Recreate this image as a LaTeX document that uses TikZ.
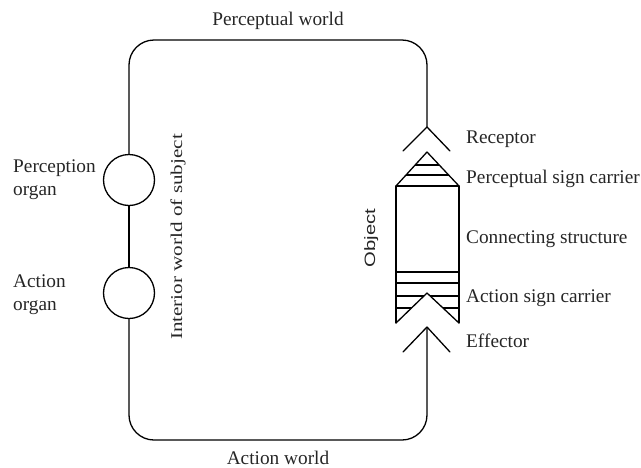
\documentclass[tikz,border=0pt]{standalone}
\usepackage{fontspec}
\setmainfont{Liberation Serif}
\setsansfont{Liberation Sans}
\usetikzlibrary{calc}
\usepackage{tkz-euclide}

\begin{document}
\begin{tikzpicture}[x=1pt,y=-1pt,
  lbl/.style={anchor=base west,inner sep=0pt,text=black!85,
    font=\fontsize{19.3}{23}\selectfont,align=left},
  ttl/.style={lbl,anchor=base},
  loop/.style={line width=1.3pt,rounded corners=25pt}]
\useasboundingbox (0,0) rectangle (641,467);
\tkzSetUpLine[line width=1.3pt,color=black]

% frame of the circle
\tkzDefPoints{129/40/tl,427/40/tr,427/440/br,129/440/bl}

% organs of the subject
\tkzDefPoints{129/180/P,129/154.5/p,129/205.5/q}
\tkzDefPoints{129/293/A,129/267.5/a,129/318.5/b}

% receptor, object, effector
\tkzDefPoints{427/127/R,403/151/R1,450/151/R2}
\tkzDefPoints{427/152/T,396/186/U,459/186/V,396/323/W,459/323/Z,427/293/N}
\tkzDefPoints{427/327/E,403/352/E1,450/352/E2}

\draw[loop] (p) -- (tl) -- (tr) -- (R);
\draw[loop] (E) -- (br) -- (bl) -- (b);
\tkzDrawSegments(q,a)

\tkzDrawCircle[color=black,line width=1.3pt](P,p)
\tkzDrawCircle[color=black,line width=1.3pt](A,a)

% object with sign carriers
\foreach \y in {272,283,296,308}
  \draw[line width=1.3pt] (396,\y) -- (459,\y);
\fill[white] (W) -- (N) -- (Z) -- cycle;
\draw[line width=1.3pt] ($(T)!.38!(U)$) -- ($(T)!.38!(V)$);
\draw[line width=1.3pt] ($(T)!.68!(U)$) -- ($(T)!.68!(V)$);
\tkzDrawSegments(U,V T,U T,V U,W V,Z W,N N,Z)

\tkzDrawSegments(R,R1 R,R2 E,E1 E,E2)

% labels
\node (pw) [ttl] at (278,25) {Perceptual world};
\node (aw) [ttl] at (278,464) {Action world};
\node (po) [lbl] at (13,195) {Perception\\organ};
\node (ao) [lbl] at (13,310) {Action\\organ};
\node (iw) [ttl,rotate=90] at (182,237)
  {\scalebox{1.28}[1]{\fontsize{16.5}{20}\selectfont Interior world of subject}};
\node (ob) [ttl,rotate=90] at (375,238)
  {\scalebox{1.35}[1]{\sffamily\fontsize{15}{18}\selectfont Object}};
\node (rc) [lbl] at (466,143) {Receptor};
\node (ps) [lbl] at (466,183) {Perceptual sign carrier};
\node (cs) [lbl] at (466,243) {Connecting structure};
\node (as) [lbl] at (466,302) {Action sign carrier};
\node (ef) [lbl] at (466,347) {Effector};

\end{tikzpicture}
\end{document}
